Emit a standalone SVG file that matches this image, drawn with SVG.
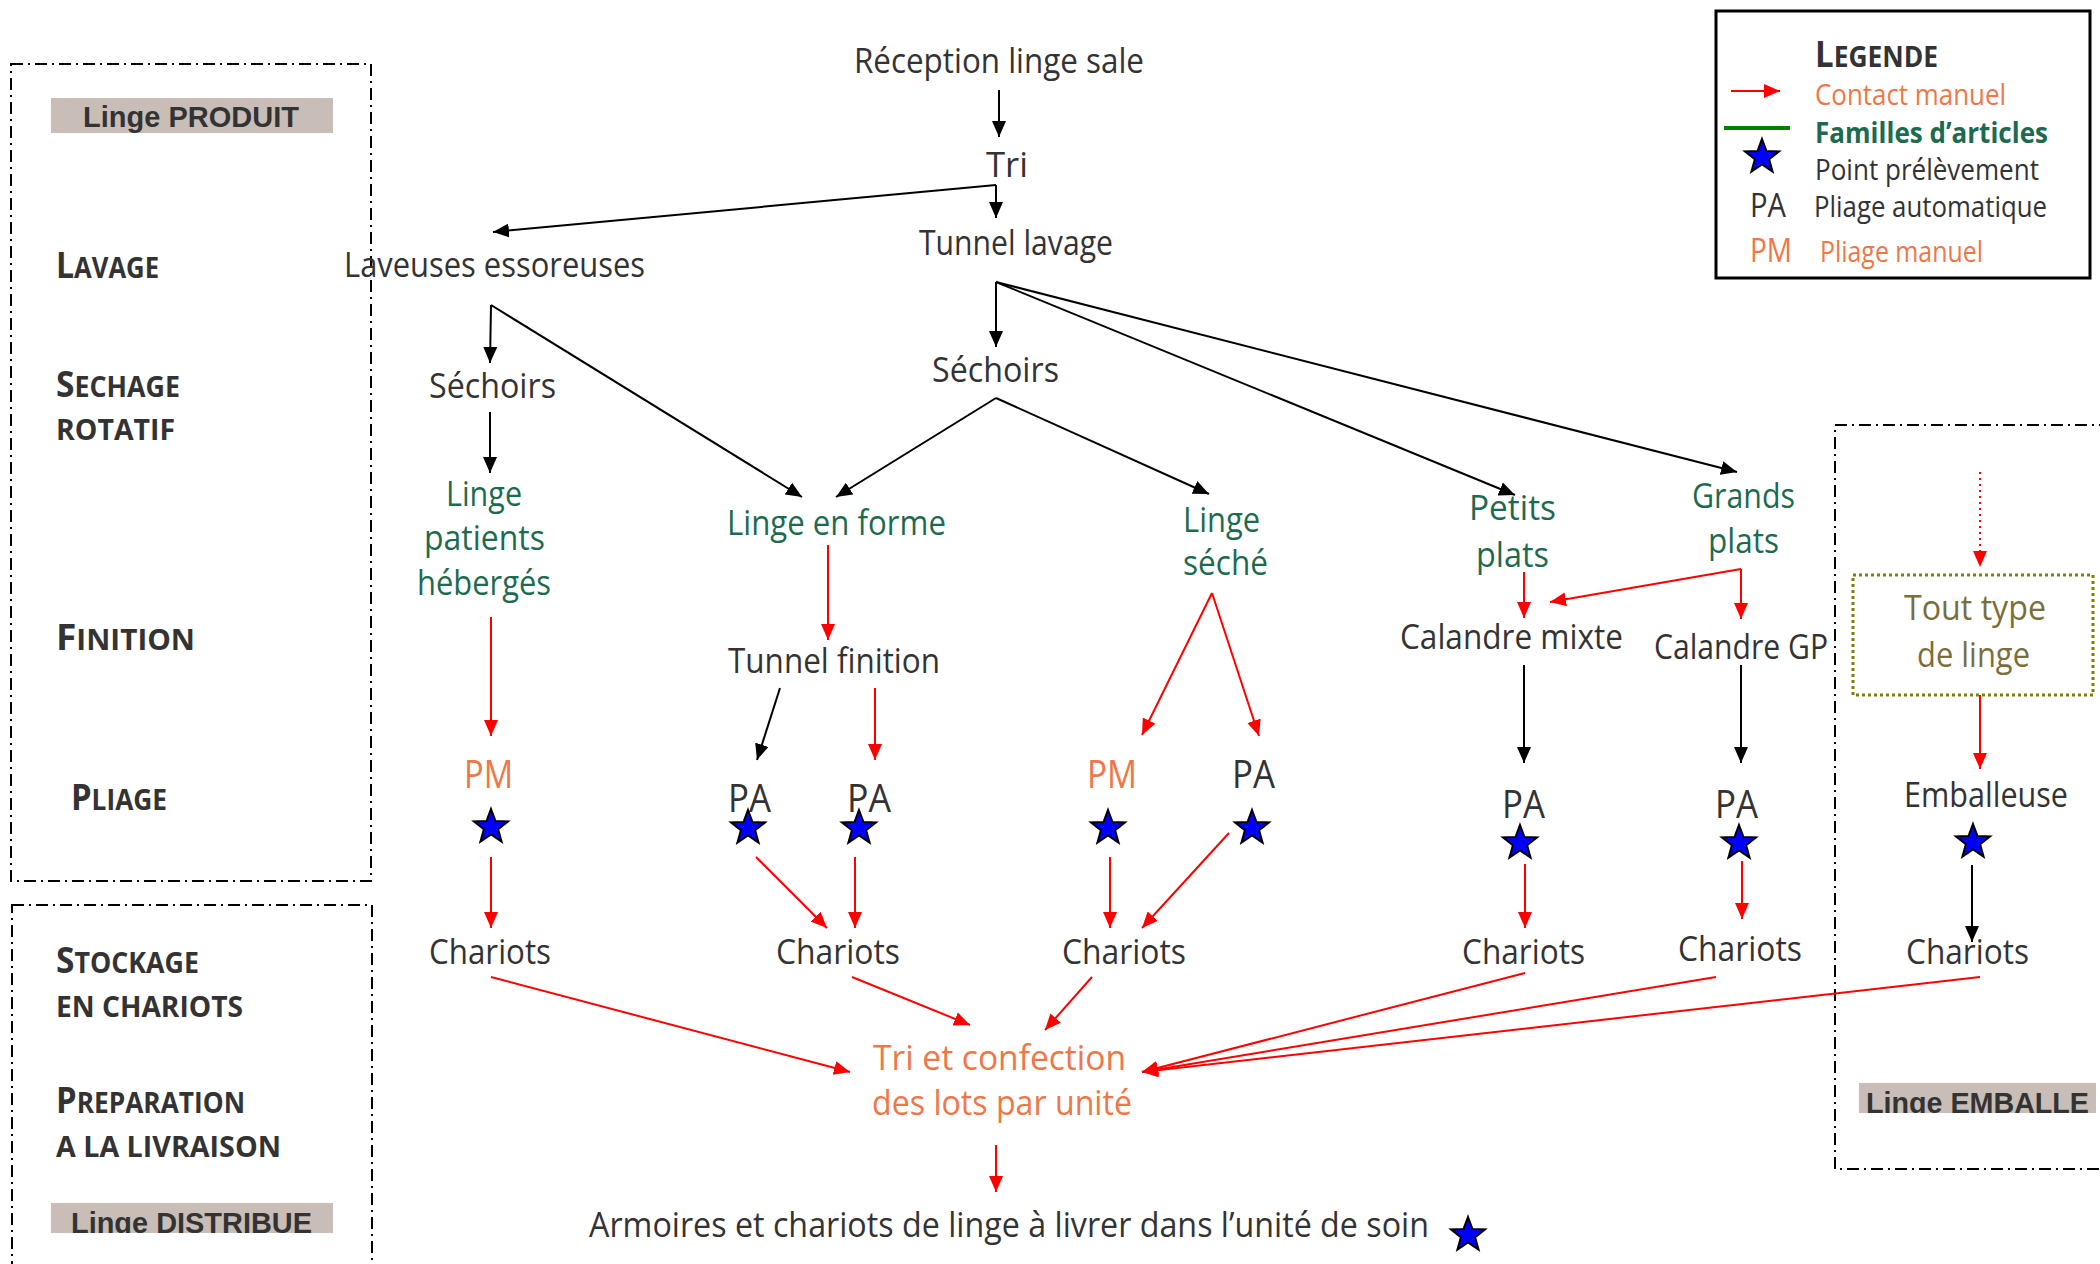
<svg xmlns="http://www.w3.org/2000/svg" width="2100" height="1264" viewBox="0 0 2100 1264">
<style>
text{font-family:"Open Sans","Noto Sans",sans-serif;font-size:34px;fill:#333}
.g{fill:#1d6b4f}
.o{fill:#ef7747}
.ol{fill:#7a6e3c}
.sc{font-weight:bold;font-size:28px}
.bg{font-size:35px}
.lg{font-size:29px}
.p{font-size:38px}
.pl{font-size:32px}
.lab{font-family:"Liberation Sans",Arial,sans-serif;font-weight:bold;font-size:30px;fill:#333}
.box{fill:none;stroke:#000;stroke-width:2;stroke-dasharray:12 5 2 5}
.k{stroke:#000;stroke-width:2;fill:none}
.r{stroke:#f00;stroke-width:2;fill:none}
.star{fill:#00f;stroke:#000;stroke-width:2;stroke-linejoin:miter}
</style>
<defs>
<marker id="ab" markerUnits="userSpaceOnUse" markerWidth="16" markerHeight="14" refX="16" refY="7" orient="auto"><path d="M0,0 L16,7 L0,14 z" fill="#000"/></marker>
<marker id="ar" markerUnits="userSpaceOnUse" markerWidth="16" markerHeight="14" refX="16" refY="7" orient="auto"><path d="M0,0 L16,7 L0,14 z" fill="#f00"/></marker>
<path id="st" class="star" d="M0,-18 L4.41,-6.07 L17.12,-5.56 L7.13,2.32 L10.58,14.56 L0,7.5 L-10.58,14.56 L-7.13,2.32 L-17.12,-5.56 L-4.41,-6.07 Z"/>
<clipPath id="c1"><rect x="51" y="1203" width="282" height="30"/></clipPath>
<clipPath id="c2"><rect x="1859" y="1083" width="237" height="30"/></clipPath>
</defs>

<g id="zones">
<rect class="box" x="11" y="64" width="360" height="817"/>
<rect class="box" x="12" y="905" width="360" height="400"/>
<rect class="box" x="1835" y="425" width="300" height="744"/>
<rect x="51" y="98" width="282" height="35" fill="#c8beb7"/>
<text class="lab" x="83" y="127" textLength="216" lengthAdjust="spacingAndGlyphs">Linge PRODUIT</text>
<rect x="51" y="1203" width="282" height="30" fill="#c8beb7"/>
<text class="lab" x="71" y="1233" textLength="241" lengthAdjust="spacingAndGlyphs" clip-path="url(#c1)">Linge DISTRIBUE</text>
<rect x="1859" y="1083" width="237" height="30" fill="#c8beb7"/>
<text class="lab" x="1866" y="1113" textLength="223" lengthAdjust="spacingAndGlyphs" clip-path="url(#c2)">Linge EMBALLE</text>
</g>

<g id="stages">
<text class="sc" x="56" y="278" textLength="103" lengthAdjust="spacingAndGlyphs"><tspan class="bg">L</tspan>AVAGE</text>
<text class="sc" x="56" y="397" textLength="124" lengthAdjust="spacingAndGlyphs"><tspan class="bg">S</tspan>ECHAGE</text>
<text class="sc" x="56" y="440" textLength="119" lengthAdjust="spacingAndGlyphs">ROTATIF</text>
<text class="sc" x="56" y="650" textLength="139" lengthAdjust="spacingAndGlyphs"><tspan class="bg">F</tspan>INITION</text>
<text class="sc" x="71" y="810" textLength="96" lengthAdjust="spacingAndGlyphs"><tspan class="bg">P</tspan>LIAGE</text>
<text class="sc" x="56" y="973" textLength="143" lengthAdjust="spacingAndGlyphs"><tspan class="bg">S</tspan>TOCKAGE</text>
<text class="sc" x="56" y="1017" textLength="187" lengthAdjust="spacingAndGlyphs">EN CHARIOTS</text>
<text class="sc" x="56" y="1113" textLength="189" lengthAdjust="spacingAndGlyphs"><tspan class="bg">P</tspan>REPARATION</text>
<text class="sc" x="56" y="1157" textLength="225" lengthAdjust="spacingAndGlyphs">A LA LIVRAISON</text>
</g>

<g id="legend">
<rect x="1716" y="11" width="374" height="267" fill="none" stroke="#000" stroke-width="3"/>
<text class="sc" x="1815" y="67" textLength="123" lengthAdjust="spacingAndGlyphs"><tspan class="bg">L</tspan>EGENDE</text>
<line class="r" x1="1731" y1="91" x2="1780" y2="91" marker-end="url(#ar)"/>
<text class="lg o" x="1815" y="105" textLength="191" lengthAdjust="spacingAndGlyphs">Contact manuel</text>
<line x1="1724" y1="128" x2="1790" y2="128" stroke="#008000" stroke-width="4"/>
<text class="lg g" font-weight="bold" x="1815" y="143" textLength="233" lengthAdjust="spacingAndGlyphs">Familles d’articles</text>
<use href="#st" x="1762" y="157"/>
<text class="lg" x="1815" y="180" textLength="224" lengthAdjust="spacingAndGlyphs">Point prélèvement</text>
<text class="pl" x="1750" y="217" textLength="36" lengthAdjust="spacingAndGlyphs">PA</text>
<text class="lg" x="1814" y="217" textLength="233" lengthAdjust="spacingAndGlyphs">Pliage automatique</text>
<text class="pl o" x="1750" y="262" textLength="42" lengthAdjust="spacingAndGlyphs">PM</text>
<text class="lg o" x="1820" y="262" textLength="163" lengthAdjust="spacingAndGlyphs">Pliage manuel</text>
</g>

<g id="connectors">
<line class="k" x1="999" y1="90" x2="999" y2="137" marker-end="url(#ab)"/>
<line class="k" x1="996" y1="185" x2="493" y2="232" marker-end="url(#ab)"/>
<line class="k" x1="996" y1="185" x2="996" y2="218" marker-end="url(#ab)"/>
<line class="k" x1="491" y1="305" x2="490" y2="363" marker-end="url(#ab)"/>
<line class="k" x1="491" y1="305" x2="802" y2="497" marker-end="url(#ab)"/>
<line class="k" x1="996" y1="282" x2="996" y2="347" marker-end="url(#ab)"/>
<line class="k" x1="996" y1="282" x2="1515" y2="495" marker-end="url(#ab)"/>
<line class="k" x1="996" y1="282" x2="1737" y2="472" marker-end="url(#ab)"/>
<line class="k" x1="490" y1="412" x2="490" y2="473" marker-end="url(#ab)"/>
<line class="k" x1="996" y1="398" x2="836" y2="497" marker-end="url(#ab)"/>
<line class="k" x1="996" y1="398" x2="1209" y2="494" marker-end="url(#ab)"/>
<line class="r" x1="491" y1="617" x2="491" y2="736" marker-end="url(#ar)"/>
<line class="r" x1="828" y1="545" x2="828" y2="640" marker-end="url(#ar)"/>
<line class="k" x1="780" y1="688" x2="757" y2="760" marker-end="url(#ab)"/>
<line class="r" x1="875" y1="688" x2="875" y2="760" marker-end="url(#ar)"/>
<line class="r" x1="1212" y1="593" x2="1142" y2="735" marker-end="url(#ar)"/>
<line class="r" x1="1212" y1="593" x2="1259" y2="736" marker-end="url(#ar)"/>
<line class="r" x1="1524" y1="572" x2="1524" y2="618" marker-end="url(#ar)"/>
<line class="r" x1="1741" y1="569" x2="1550" y2="602" marker-end="url(#ar)"/>
<line class="r" x1="1741" y1="569" x2="1741" y2="619" marker-end="url(#ar)"/>
<line class="k" x1="1524" y1="665" x2="1524" y2="763" marker-end="url(#ab)"/>
<line class="k" x1="1741" y1="665" x2="1741" y2="763" marker-end="url(#ab)"/>
<line class="r" x1="1980" y1="472" x2="1980" y2="567" stroke-dasharray="2 4" marker-end="url(#ar)"/>
<line class="r" x1="1980" y1="695" x2="1980" y2="769" marker-end="url(#ar)"/>
<line class="r" x1="491" y1="857" x2="491" y2="928" marker-end="url(#ar)"/>
<line class="r" x1="756" y1="857" x2="827" y2="928" marker-end="url(#ar)"/>
<line class="r" x1="855" y1="857" x2="855" y2="928" marker-end="url(#ar)"/>
<line class="r" x1="1110" y1="857" x2="1110" y2="928" marker-end="url(#ar)"/>
<line class="r" x1="1229" y1="833" x2="1142" y2="928" marker-end="url(#ar)"/>
<line class="r" x1="1525" y1="864" x2="1525" y2="928" marker-end="url(#ar)"/>
<line class="r" x1="1742" y1="861" x2="1742" y2="919" marker-end="url(#ar)"/>
<line class="k" x1="1972" y1="865" x2="1972" y2="942" marker-end="url(#ab)"/>
<line class="r" x1="491" y1="977" x2="850" y2="1072" marker-end="url(#ar)"/>
<line class="r" x1="852" y1="977" x2="970" y2="1025" marker-end="url(#ar)"/>
<line class="r" x1="1092" y1="977" x2="1045" y2="1030" marker-end="url(#ar)"/>
<line class="r" x1="1525" y1="973" x2="1142" y2="1072" marker-end="url(#ar)"/>
<line class="r" x1="1716" y1="977" x2="1142" y2="1072" marker-end="url(#ar)"/>
<line class="r" x1="1980" y1="977" x2="1142" y2="1072" marker-end="url(#ar)"/>
<line class="r" x1="996" y1="1145" x2="996" y2="1192" marker-end="url(#ar)"/>
</g>

<g id="n-reception"><text x="854" y="73" textLength="290" lengthAdjust="spacingAndGlyphs">Réception linge sale</text></g>
<g id="n-tri"><text x="986" y="177" textLength="42" lengthAdjust="spacingAndGlyphs">Tri</text></g>
<g id="n-tunnel-lavage"><text x="919" y="255" textLength="194" lengthAdjust="spacingAndGlyphs">Tunnel lavage</text></g>
<g id="n-laveuses"><text x="344" y="277" textLength="301" lengthAdjust="spacingAndGlyphs">Laveuses essoreuses</text></g>
<g id="n-sechoirs1"><text x="429" y="398" textLength="127" lengthAdjust="spacingAndGlyphs">Séchoirs</text></g>
<g id="n-sechoirs2"><text x="932" y="382" textLength="127" lengthAdjust="spacingAndGlyphs">Séchoirs</text></g>
<g id="n-linge-patients">
<text class="g" x="446" y="506" textLength="76" lengthAdjust="spacingAndGlyphs">Linge</text>
<text class="g" x="424" y="550" textLength="121" lengthAdjust="spacingAndGlyphs">patients</text>
<text class="g" x="417" y="595" textLength="134" lengthAdjust="spacingAndGlyphs">hébergés</text>
</g>
<g id="n-linge-forme"><text class="g" x="727" y="535" textLength="219" lengthAdjust="spacingAndGlyphs">Linge en forme</text></g>
<g id="n-linge-seche">
<text class="g" x="1183" y="532" textLength="77" lengthAdjust="spacingAndGlyphs">Linge</text>
<text class="g" x="1183" y="575" textLength="85" lengthAdjust="spacingAndGlyphs">séché</text>
</g>
<g id="n-petits-plats">
<text class="g" x="1469" y="520" textLength="87" lengthAdjust="spacingAndGlyphs">Petits</text>
<text class="g" x="1476" y="567" textLength="73" lengthAdjust="spacingAndGlyphs">plats</text>
</g>
<g id="n-grands-plats">
<text class="g" x="1692" y="508" textLength="103" lengthAdjust="spacingAndGlyphs">Grands</text>
<text class="g" x="1708" y="553" textLength="71" lengthAdjust="spacingAndGlyphs">plats</text>
</g>
<g id="n-tunnel-finition"><text x="728" y="673" textLength="212" lengthAdjust="spacingAndGlyphs">Tunnel finition</text></g>
<g id="n-calandre-mixte"><text x="1400" y="649" textLength="223" lengthAdjust="spacingAndGlyphs">Calandre mixte</text></g>
<g id="n-calandre-gp"><text x="1654" y="659" textLength="174" lengthAdjust="spacingAndGlyphs">Calandre GP</text></g>
<g id="n-tout-type">
<rect x="1853" y="575" width="240" height="120" fill="none" stroke="#808000" stroke-width="3" stroke-dasharray="3 3"/>
<text class="ol" x="1904" y="620" textLength="142" lengthAdjust="spacingAndGlyphs">Tout type</text>
<text class="ol" x="1917" y="667" textLength="113" lengthAdjust="spacingAndGlyphs">de linge</text>
</g>
<g id="n-pm1"><text class="p o" x="464" y="788" textLength="49" lengthAdjust="spacingAndGlyphs">PM</text><use href="#st" x="491" y="827"/></g>
<g id="n-pa1"><text class="p" x="728" y="812" textLength="43" lengthAdjust="spacingAndGlyphs">PA</text><use href="#st" x="748" y="828"/></g>
<g id="n-pa2"><text class="p" x="847" y="812" textLength="44" lengthAdjust="spacingAndGlyphs">PA</text><use href="#st" x="859" y="828"/></g>
<g id="n-pm2"><text class="p o" x="1087" y="788" textLength="50" lengthAdjust="spacingAndGlyphs">PM</text><use href="#st" x="1108" y="828"/></g>
<g id="n-pa3"><text class="p" x="1232" y="788" textLength="43" lengthAdjust="spacingAndGlyphs">PA</text><use href="#st" x="1252" y="828"/></g>
<g id="n-pa4"><text class="p" x="1502" y="818" textLength="43" lengthAdjust="spacingAndGlyphs">PA</text><use href="#st" x="1520" y="843"/></g>
<g id="n-pa5"><text class="p" x="1715" y="818" textLength="43" lengthAdjust="spacingAndGlyphs">PA</text><use href="#st" x="1739" y="843"/></g>
<g id="n-emballeuse"><text x="1904" y="807" textLength="164" lengthAdjust="spacingAndGlyphs">Emballeuse</text><use href="#st" x="1973" y="842"/></g>
<g id="n-chariots1"><text x="429" y="964" textLength="122" lengthAdjust="spacingAndGlyphs">Chariots</text></g>
<g id="n-chariots2"><text x="776" y="964" textLength="124" lengthAdjust="spacingAndGlyphs">Chariots</text></g>
<g id="n-chariots3"><text x="1062" y="964" textLength="124" lengthAdjust="spacingAndGlyphs">Chariots</text></g>
<g id="n-chariots4"><text x="1462" y="964" textLength="123" lengthAdjust="spacingAndGlyphs">Chariots</text></g>
<g id="n-chariots5"><text x="1678" y="961" textLength="124" lengthAdjust="spacingAndGlyphs">Chariots</text></g>
<g id="n-chariots6"><text x="1906" y="964" textLength="123" lengthAdjust="spacingAndGlyphs">Chariots</text></g>
<g id="n-tri-confection">
<text class="o" x="873" y="1070" textLength="253" lengthAdjust="spacingAndGlyphs">Tri et confection</text>
<text class="o" x="872" y="1115" textLength="260" lengthAdjust="spacingAndGlyphs">des lots par unité</text>
</g>
<g id="n-armoires"><text x="589" y="1237" textLength="840" lengthAdjust="spacingAndGlyphs">Armoires et chariots de linge à livrer dans l’unité de soin</text><use href="#st" x="1468" y="1235"/></g>
</svg>
